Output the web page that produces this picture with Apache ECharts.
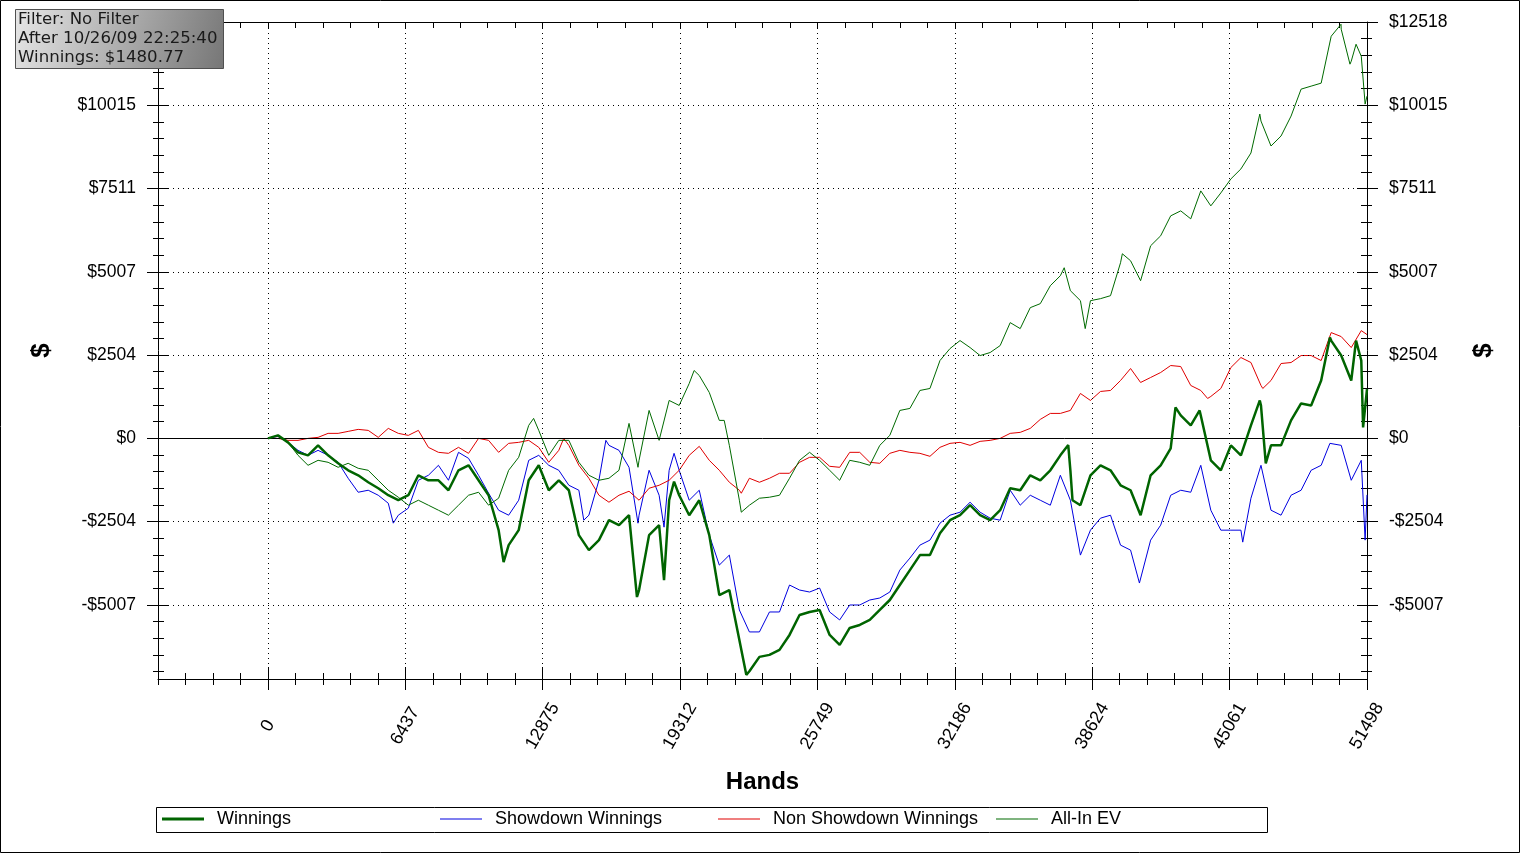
<!DOCTYPE html>
<html><head><meta charset="utf-8">
<script src="https://cdn.jsdelivr.net/npm/echarts@6/dist/echarts.min.js"></script>
<style>html,body{margin:0;padding:0;background:#fff}#c{width:1522px;height:855px}</style>
</head><body><div id="c"></div>
<script>
// ---- data (hand number, dollars) ----
const hands = [0,470,940,1410,1880,2350,2820,3290,3760,4230,4700,5170,5640,6110,6580,7050,7520,7990,8460,8930,9400,9870,10340,10810,11280,11750,12220,12690,13160,13630,14100,14570,15040,15510,15980,16450,16920,17390,17860,18330,18800,19270,19740,20210,20680,21150,21620,22090,22560,23030,23500,23970,24440,24910,25380,25850,26320,26790,27260,27730,28200,28670,29140,29610,30080,30550,31020,31490,31960,32430,32900,33370,33840,34310,34780,35250,35720,36190,36660,37130,37600,38070,38540,39010,39480,39950,40420,40890,41360,41830,42300,42770,43240,43710,44180,44650,45120,45590,46060,46530,47000,47470,47940,48410,48880,49350,49820,50290,50760,51230,51498];
const winnings = [0,90,-120,-420,-510,-210,-510,-750,-960,-1110,
 -1320,-1500,-1710,-1860,-1710,-1110,-1260,-1260,-1560,-960,
 -810,-1260,-1710,-2760,-3210,-2760,-1260,-810,-1560,-1260,
 -1560,-2910,-3360,-3060,-2460,-2610,-2310,-4560,-2910,-2610,
 -1860,-1710,-2310,-1860,-2910,-4710,-4560,-6060,-7000,-6570,
 -6510,-6360,-5910,-5310,-5220,-5160,-5910,-6210,-5700,-5610,
 -5460,-5160,-4860,-4410,-3960,-3510,-3510,-2850,-2460,-2310,
 -2010,-2310,-2460,-2160,-1500,-1560,-1110,-1260,-960,-510,
 -960,-2010,-1110,-810,-960,-1410,-1560,-2310,-1110,-810,
 -300,690,390,690,-660,-960,-210,-510,390,990,
 -210,-210,540,1050,990,1740,2940,2490,1740,2340,
 1481];
const showdown = [0,60,-120,-360,-510,-360,-510,-720,-1200,-1620,
 -1560,-1710,-1950,-2310,-2100,-1260,-1110,-810,-1260,-420,
 -600,-1110,-1650,-2160,-2310,-1860,-660,-510,-810,-960,
 -1410,-1560,-2310,-1260,-210,-360,-870,-2310,-960,-1710,
 -960,-960,-1860,-1560,-2910,-3810,-3510,-5160,-5820,-5820,
 -5220,-5220,-4410,-4560,-4620,-4500,-5220,-5460,-5010,-5010,
 -4860,-4800,-4620,-3960,-3600,-3210,-3060,-2550,-2310,-2220,
 -1920,-2220,-2400,-2460,-1560,-2010,-1710,-1860,-2010,-1110,
 -1860,-3510,-2760,-2400,-2310,-3210,-3360,-4320,-3060,-2610,
 -1710,-1560,-1620,-810,-2160,-2760,-2760,-2760,-1800,-810,
 -2160,-2310,-1710,-1560,-960,-810,-210,-210,-1260,-660,
 -1700];
const nonShowdown = [0,0,-60,-60,0,30,150,150,210,270,
 240,30,300,150,90,240,-270,-420,-450,-270,
 -450,0,-60,-420,-150,-120,-60,-270,-720,-360,
 -210,-810,-1200,-1710,-1920,-1710,-1590,-1860,-1500,-1410,
 -1260,-960,-510,-240,-660,-960,-1320,-1560,-1200,-1320,
 -1200,-1050,-1050,-720,-570,-570,-840,-870,-420,-420,
 -720,-750,-450,-360,-420,-450,-540,-270,-150,-120,
 -210,-90,-60,0,150,180,300,570,750,750,
 840,1350,1140,1410,1440,1740,2100,1680,1830,1980,
 2190,2160,1590,1440,1260,1500,2130,2430,2280,1590,
 1740,2250,2280,2490,2490,2340,3180,3060,2730,3240,
 3120];
const allInEV = [0,90,-120,-510,-810,-660,-720,-870,-750,-900,
 -960,-1260,-1560,-1770,-2010,-1860,-2010,-2160,-2310,-2010,
 -1710,-1620,-2010,-1800,-960,-570,390,240,-510,-60,
 -60,-720,-1110,-1260,-1200,-960,450,-660,840,-60,
 1140,990,1650,1890,1380,540,-210,-1860,-2010,-1800,
 -1770,-1710,-1200,-660,-420,-660,-960,-1260,-660,-720,
 -810,-210,90,840,900,1440,1500,2340,2700,2940,
 2730,2490,2580,2790,3480,3300,3930,4050,4590,4890,
 4440,4140,4140,4200,4290,5280,5340,4740,5790,6090,
 6690,6840,6600,7440,6990,7380,7800,8100,8580,9540,
 8790,9090,9690,10500,10590,10680,12090,12300,11340,11490,
 10290];
// extra readings at sharp peaks / dips (hand, dollars)
const winningsSpikeHands  = [11043,17292,18561,19030,22415,37500,37700,42525,43655,46475,46755,49760,50985,51315];
const winningsSpikeValues = [-3720,-4770,-4260,-1300,-7110,-200,-1860,930,840,1140,-750,3030,2940,330];
const showdownSpikeHands  = [5875,14800,15835,17340,18560,19030,38155,40835,45675,49760,51410];
const showdownSpikeValues = [-2550,-2460,-60,-2550,-2670,-450,-3570,-4350,-3120,-150,-3060];
const nonShowdownSpikeHands  = [13860,16070,22180,44030,46615,49900];
const nonShowdownSpikeValues = [0,-1950,-1650,1200,1500,3240];
const allInEVSpikeHands  = [12450,17340,19970,21380,22180,37310,38295,40035,46475,50280,50700,50985,51410];
const allInEVSpikeValues = [600,-870,2040,540,-2220,5130,3300,5550,9750,12450,11250,11850,10050];

const seriesNames = ['Winnings','Showdown Winnings','Non Showdown Winnings','All-In EV'];
const xTickValues = [0,6437.25,12874.5,19311.75,25749,32186.25,38623.5,45060.75,51498];
const xTickLabels = ['0','6437','12875','19312','25749','32186','38624','45061','51498'];
const yTickValues = [-5007.3,-2503.65,0,2503.65,5007.3,7510.95,10014.6,12518.25];
const yTickLabels = ['-$5007','-$2504','$0','$2504','$5007','$7511','$10015','$12518'];
const infoLines = ['Filter: No Filter','After 10/26/09 22:25:40','Winnings: $1480.77'];

// ---- layout ----
const X_MIN = -5149.8, X_MAX = 51498, Y_MIN = -7235, Y_MAX = 12518.25;
const xStep = 6437.25/5, yStep = 2503.65/5;
const xMinor = [], yMinor = [];
for (let k = -4; k <= 40; k++) xMinor.push(k*xStep);
for (let k = -14; k <= 25; k++) yMinor.push(k*yStep);
const FONT = '"Liberation Sans", Arial, sans-serif';

function lab(vals, labels){ return v => { for (let i=0;i<vals.length;i++) if (Math.abs(vals[i]-v)<1) return labels[i]; return ''; }; }
function tickAxis(base, values, inside, len, extra){
  return Object.assign({type:'value', min: base.min, max: base.max, position: base.position,
    axisLine:{show:false, onZero:false}, splitLine:{show:false}, axisLabel:{show:false},
    axisTick:{show:true, customValues: values, inside: inside, length: len, lineStyle:{color:'#000', width:1}}}, extra||{});
}
const xb = {min:X_MIN, max:X_MAX, position:'bottom'};
const xt = {min:X_MIN, max:X_MAX, position:'top'};
const yl = {min:Y_MIN, max:Y_MAX, position:'left'};
const yr = {min:Y_MIN, max:Y_MAX, position:'right'};
const leftLabelValues = yTickValues.filter(v => v < Y_MAX - 1);

const xAxes = [
  tickAxis(xb, xTickValues, false, 11, {
    axisLine:{show:true, onZero:false, lineStyle:{color:'#000', width:1}},
    name:'Hands', nameLocation:'middle', nameGap:91,
    nameTextStyle:{fontFamily:FONT, fontSize:24, fontWeight:'bold', color:'#000'},
    axisLabel:{show:true, customValues:xTickValues, formatter: lab(xTickValues,xTickLabels),
      rotate:60, align:'center', verticalAlign:'middle', margin:47,
      fontFamily:FONT, fontSize:18, color:'#000'}}),
  tickAxis(xb, xTickValues, true, 12),
  tickAxis(xb, xMinor, false, 6),
  tickAxis(xb, xMinor, true, 6),
  tickAxis(xt, xMinor, true, 6, {axisLine:{show:true, onZero:false, lineStyle:{color:'#000', width:1}}})
];
const yNameStyle = {fontFamily:FONT, fontSize:26, fontWeight:'bold', color:'#000'};
const yAxes = [
  tickAxis(yl, yTickValues, false, 11, {
    axisLine:{show:true, onZero:false, lineStyle:{color:'#000', width:1}},
    name:'$', nameLocation:'middle', nameGap:103, nameRotate:90, nameTextStyle:yNameStyle,
    axisLabel:{show:true, customValues:leftLabelValues, formatter: lab(yTickValues,yTickLabels),
      margin:22, fontFamily:FONT, fontSize:17.5, color:'#000'}}),
  tickAxis(yl, yTickValues, true, 10),
  tickAxis(yl, yMinor, false, 5),
  tickAxis(yl, yMinor, true, 6),
  tickAxis(yr, yTickValues, false, 11, {
    axisLine:{show:true, onZero:false, lineStyle:{color:'#000', width:1}},
    name:'$', nameLocation:'middle', nameGap:104, nameRotate:90, nameTextStyle:yNameStyle,
    axisLabel:{show:true, customValues:yTickValues, formatter: lab(yTickValues,yTickLabels),
      margin:22, fontFamily:FONT, fontSize:17.5, color:'#000'}}),
  tickAxis(yr, yTickValues, true, 10),
  tickAxis(yr, yMinor, false, 5),
  tickAxis(yr, yMinor, true, 6)
];

function merged(values, extraHands, extraValues){
  const pts = hands.map((h,i)=>[h, values[i]]);
  extraHands.forEach((h,i)=>pts.push([h, extraValues[i]]));
  pts.sort((a,b)=>a[0]-b[0]);
  return pts;
}
const colors = {'Winnings':'#006400','Showdown Winnings':'#0000e0','Non Showdown Winnings':'#e00000','All-In EV':'#006a00'};
function lineSeries(name, data, width, z){
  return {name:name, type:'line', data:data, showSymbol:false, symbol:'none', z:z,
    lineStyle:{color:colors[name], width:width}, itemStyle:{color:colors[name]},
    emphasis:{disabled:true}, silent:true, animation:false};
}
const gridLines = [];
xTickValues.forEach(v => { if (v < X_MAX - 1) gridLines.push({xAxis:v}); });
yTickValues.forEach(v => { if (v !== 0 && v < Y_MAX - 1) gridLines.push({yAxis:v}); });
gridLines.push({yAxis:0, lineStyle:{type:'solid', color:'#000', width:1}});

const legendX = [162, 440, 718, 996];
const legends = seriesNames.map((n,i)=>({
  data:[n], left:legendX[i], top:810, padding:0, icon:'rect', itemWidth:42, itemHeight: i===0?3:1,
  selectedMode:false, textStyle:{fontFamily:FONT, fontSize:18, color:'#000', padding:[0,0,0,8]}
}));

const option = {
  animation:false,
  backgroundColor:'#fff',
  grid:{left:158, right:155, top:22, bottom:176, containLabel:false, outerBoundsMode:'none'},
  xAxis: xAxes,
  yAxis: yAxes,
  legend: legends,
  series: [
    {name:'grid', type:'line', data:[], silent:true, z:1,
     markLine:{silent:true, symbol:'none', animation:false, label:{show:false},
       emphasis:{disabled:true},
       lineStyle:{color:'#000', type:[1,4], width:1}, data:gridLines}},
    lineSeries('Showdown Winnings', merged(showdown, showdownSpikeHands, showdownSpikeValues), 1, 3),
    lineSeries('Non Showdown Winnings', merged(nonShowdown, nonShowdownSpikeHands, nonShowdownSpikeValues), 1, 3),
    lineSeries('All-In EV', merged(allInEV, allInEVSpikeHands, allInEVSpikeValues), 1, 4),
    lineSeries('Winnings', merged(winnings, winningsSpikeHands, winningsSpikeValues), 2.5, 5)
  ],
  graphic: [
    {type:'rect', shape:{x:0.5, y:0.5, width:1519, height:852}, style:{fill:'none', stroke:'#000', lineWidth:1}, silent:true, z:100, zlevel:1},
    {type:'rect', shape:{x:156.5, y:807.5, width:1111, height:25}, style:{fill:'none', stroke:'#000', lineWidth:1}, silent:true, z:100},
    {type:'group', left:15, top:9, z:100, zlevel:1, children:[
      {type:'rect', z:100, zlevel:1, shape:{x:0.5, y:0.5, width:208, height:59},
       style:{fill:new echarts.graphic.LinearGradient(0,0,1,1,[{offset:0,color:'#e6e6e6'},{offset:1,color:'#767676'}]), stroke:'#505050', lineWidth:1}},
      ...infoLines.map((t,i)=>({type:'text', z:101, zlevel:1, style:{text:t, x:3, y:11+i*19, fill:'#1a1a1a',
        font:'16.6px "DejaVu Sans", Verdana, sans-serif', textVerticalAlign:'middle'}}))
    ]}
  ]
};
const chart = echarts.init(document.getElementById('c'), null, {renderer:'canvas'});
chart.setOption(option);
</script></body></html>
